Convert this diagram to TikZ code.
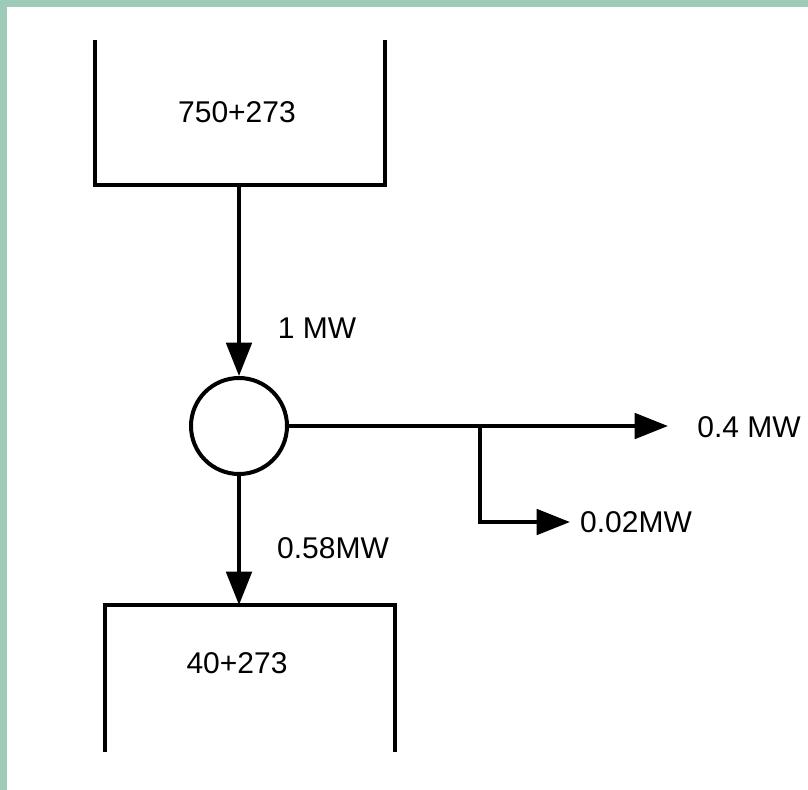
\documentclass[tikz,border=0pt]{standalone}
\usepackage{fontspec}
\setmainfont{Liberation Sans}
\usetikzlibrary{arrows.meta}
\definecolor{framegreen}{HTML}{9ECBB8}
\begin{document}
\begin{tikzpicture}[
    x=0.75pt, y=-0.75pt,
    wall/.style={line width=3pt},
    flow/.style={line width=3pt, -{Triangle[length=25pt,width=19pt]}},
    every node/.style={font=\fontsize{22.5}{27}\selectfont, inner sep=0pt}
]
    \useasboundingbox (0,0) rectangle (808,790);
    \fill[framegreen] (0,0) rectangle (808,790);
    \fill[white] (7,7) rectangle (808,790);

    % hot reservoir
    \draw[wall] (95,40) |- (385,185) -- (385,40);
    \node (hot) at (237,112) {750+273};
    \coordinate (hotout) at (239,185);

    % engine
    \node[draw, circle, line width=3pt, minimum size=72pt] (engine) at (239,426) {};

    % cold reservoir
    \draw[wall] (105,752) |- (395,605) -- (395,752);
    \node (cold) at (237,663) {40+273};
    \coordinate (coldin) at (239,605);

    % flows
    \coordinate (tap) at (480,426);
    \coordinate (work) at (668,426);
    \coordinate (loss) at (570,522);
    \draw[flow] (hotout) -- (engine.north);
    \draw[flow] (engine.east) -- (work);
    \draw[flow] (tap) |- (loss);
    \draw[flow] (engine.south) -- (coldin);

    \node (qin) at (317,328) {1 MW};
    \node (w) at (749,427) {0.4 MW};
    \node (ql) at (636,522) {0.02MW};
    \node (qout) at (333,548) {0.58MW};
\end{tikzpicture}
\end{document}
